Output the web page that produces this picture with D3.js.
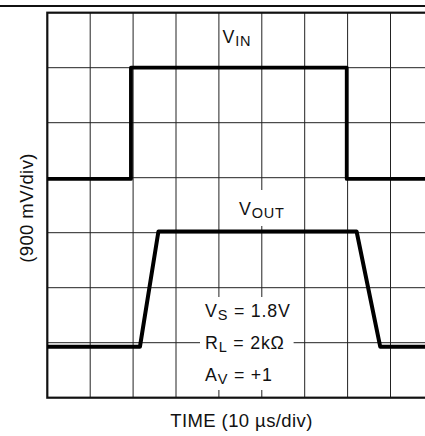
<!DOCTYPE html>
<html><head><meta charset="utf-8">
<script src="https://cdn.jsdelivr.net/npm/d3@7/dist/d3.min.js"></script>
<style>
html,body{margin:0;padding:0;background:#fff;}
svg{display:block;}
text{font-family:"Liberation Sans",Arial,Helvetica,sans-serif;fill:#111;}
</style></head>
<body><div id="chart"></div>
<script>
// time in µs (10 µs/div), voltage in V (0.9 V/div)
const timeDivs = [0,10,20,30,40,50,60,70,80,90,100];
const voltDivs = [0,0.9,1.8,2.7,3.6,4.5,5.4,6.3];
const vinTime  = [0, 19.5, 19.5, 69.8, 69.8, 100];
const vinVolts = [3.58, 3.58, 5.4, 5.4, 3.58, 3.58];
const voutTime  = [0, 21.6, 25.9, 72.1, 77.6, 100];
const voutVolts = [0.835, 0.835, 2.72, 2.72, 0.835, 0.835];
const conditions = [["V","S"," = 1.8V"],["R","L"," = 2kΩ"],["A","V"," = +1"]];
const xTitle = "TIME (10 µs/div)";
const yTitle = "(900 mV/div)";

const W = 425, H = 436;
const svg = d3.select("#chart").append("svg").attr("width", W).attr("height", H);

const x = d3.scaleLinear().domain([0, 100]).range([47.3, 476.3]);
const y = d3.scaleLinear().domain([0, 6.3]).range([397.7, 12.7]);

// top rule
svg.append("line").attr("x1",0).attr("x2",W).attr("y1",6).attr("y2",6)
  .attr("stroke","#111").attr("stroke-width",2);

const g = svg.append("g");
// grid
g.selectAll("line.v").data(timeDivs.slice(1)).join("line")
  .attr("x1",d=>x(d)).attr("x2",d=>x(d)).attr("y1",y(6.3)).attr("y2",y(0))
  .attr("stroke","#222").attr("stroke-width",1);
g.selectAll("line.h").data(voltDivs.slice(1,-1)).join("line")
  .attr("x1",x(0)).attr("x2",x(100)).attr("y1",d=>y(d)).attr("y2",d=>y(d))
  .attr("stroke","#222").attr("stroke-width",1);

// white label backgrounds
const bgLayer = g.append("g");

// frame
g.append("rect").attr("x",x(0)).attr("y",y(6.3)).attr("width",x(100)-x(0)).attr("height",y(0)-y(6.3))
  .attr("fill","none").attr("stroke","#111").attr("stroke-width",2.2);

const line = d3.line().x(d=>x(d[0])).y(d=>y(d[1]));
g.append("path").datum(d3.zip(vinTime, vinVolts)).attr("d", line)
  .attr("fill","none").attr("stroke","#000").attr("stroke-width",3.8).attr("stroke-linejoin","round");
g.append("path").datum(d3.zip(voutTime, voutVolts)).attr("d", line)
  .attr("fill","none").attr("stroke","#000").attr("stroke-width",4).attr("stroke-linejoin","round");

function subText(parent, xx, yy, main, sub, rest){
  const t = parent.append("text").attr("x",xx).attr("y",yy).attr("font-size",17.8).attr("letter-spacing",0.8);
  t.append("tspan").text(main);
  t.append("tspan").attr("font-size",14.5).attr("dy",3).text(sub);
  if (rest) t.append("tspan").attr("dy",-3).text(rest);
  return t;
}

subText(g, 222.5, 43, "V", "IN");
const vout = subText(g, 239, 215, "V", "OUT");
let b = vout.node().getBBox();
bgLayer.append("rect").attr("x",b.x-3).attr("y",190).attr("width",b.width+6).attr("height",36).attr("fill","#fff");

const condG = g.append("g");
conditions.forEach((c,i)=> subText(condG, 205, 317 + i*32, c[0], c[1], c[2]));
b = condG.node().getBBox();
bgLayer.append("rect").attr("x",b.x-5).attr("y",297).attr("width",b.width+8).attr("height",93).attr("fill","#fff");

svg.append("text").attr("x",241.5).attr("y",427).attr("text-anchor","middle")
  .attr("font-size",18.5).attr("letter-spacing",0.4).text(xTitle);
svg.append("text").attr("transform","translate(33,208) rotate(-90)").attr("text-anchor","middle")
  .attr("font-size",18.5).attr("letter-spacing",0.4).text(yTitle);
</script></body></html>
